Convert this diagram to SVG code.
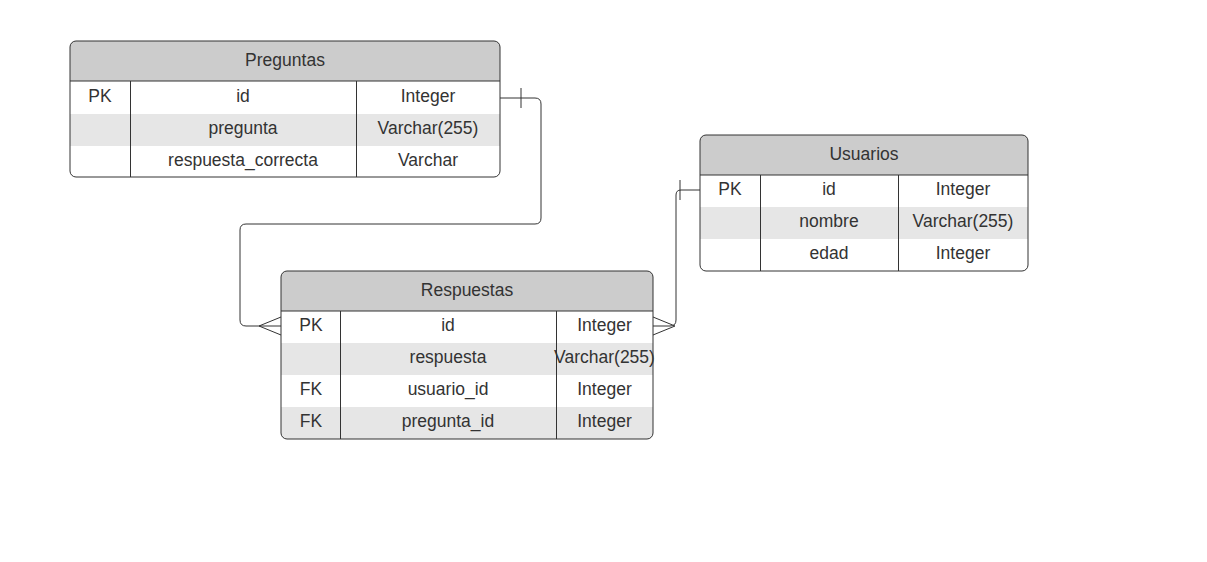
<svg xmlns="http://www.w3.org/2000/svg" width="1207" height="562" viewBox="0 0 1207 562">
<style>
.hdr{fill:#cccccc}
.alt{fill:#e6e6e6}
.body{fill:#ffffff}
.frame{fill:none;stroke:#333333;stroke-width:1}
.sep{stroke:#333333;stroke-width:1}
.t{font-family:"Liberation Sans",Arial,sans-serif;font-size:17.5px;fill:#333333;text-anchor:middle;dominant-baseline:central}
.conn{fill:none;stroke:#333333;stroke-width:1}
</style>
<defs>
<clipPath id="cp1"><rect x="70" y="41" width="430" height="136" rx="6"/></clipPath>
<clipPath id="cp2"><rect x="281" y="271" width="372" height="168" rx="6"/></clipPath>
<clipPath id="cp3"><rect x="700" y="135" width="328" height="136" rx="6"/></clipPath>
</defs>
<rect width="1207" height="562" fill="#ffffff"/>

<g id="connectors">
<path class="conn" d="M500,98 H535 Q541,98 541,104 V218 Q541,224 535,224 H246 Q240,224 240,230 V320 Q240,326 246,326 H281"/>
<path class="conn" d="M521,88 V108"/>
<path class="conn" d="M281,317 L259,326 L281,335"/>
<path class="conn" d="M653,326 H670 Q676,326 676,320 V195 Q676,190 681,190 H700"/>
<path class="conn" d="M680,180 V200"/>
<path class="conn" d="M653,317 L675,326 L653,335"/>
</g>

<g id="preguntas">
<g clip-path="url(#cp1)">
<rect class="body" x="70" y="41" width="430" height="136"/>
<rect class="hdr" x="70" y="41" width="430" height="40"/>
<rect class="alt" x="70" y="114" width="430" height="32"/>
</g>
<line class="sep" x1="70" y1="81" x2="500" y2="81"/>
<line class="sep" x1="130.5" y1="81" x2="130.5" y2="177"/>
<line class="sep" x1="356.5" y1="81" x2="356.5" y2="177"/>
<rect class="frame" x="70" y="41" width="430" height="136" rx="6"/>
<text class="t" x="285" y="60">Preguntas</text>
<text class="t" x="100" y="96">PK</text>
<text class="t" x="243" y="96">id</text>
<text class="t" x="428" y="96">Integer</text>
<text class="t" x="243" y="128">pregunta</text>
<text class="t" x="428" y="128">Varchar(255)</text>
<text class="t" x="243" y="160">respuesta_correcta</text>
<text class="t" x="428" y="160">Varchar</text>
</g>

<g id="respuestas">
<g clip-path="url(#cp2)">
<rect class="body" x="281" y="271" width="372" height="168"/>
<rect class="hdr" x="281" y="271" width="372" height="40"/>
<rect class="alt" x="281" y="343" width="372" height="32"/>
<rect class="alt" x="281" y="407" width="372" height="32"/>
</g>
<line class="sep" x1="281" y1="311" x2="653" y2="311"/>
<line class="sep" x1="340.5" y1="311" x2="340.5" y2="439"/>
<line class="sep" x1="556.5" y1="311" x2="556.5" y2="439"/>
<rect class="frame" x="281" y="271" width="372" height="168" rx="6"/>
<text class="t" x="467" y="290">Respuestas</text>
<text class="t" x="311" y="325">PK</text>
<text class="t" x="448" y="325">id</text>
<text class="t" x="604.5" y="325">Integer</text>
<text class="t" x="448" y="357">respuesta</text>
<text class="t" x="604.5" y="357">Varchar(255)</text>
<text class="t" x="311" y="389">FK</text>
<text class="t" x="448" y="389">usuario_id</text>
<text class="t" x="604.5" y="389">Integer</text>
<text class="t" x="311" y="421">FK</text>
<text class="t" x="448" y="421">pregunta_id</text>
<text class="t" x="604.5" y="421">Integer</text>
</g>

<g id="usuarios">
<g clip-path="url(#cp3)">
<rect class="body" x="700" y="135" width="328" height="136"/>
<rect class="hdr" x="700" y="135" width="328" height="40"/>
<rect class="alt" x="700" y="207" width="328" height="32"/>
</g>
<line class="sep" x1="700" y1="175" x2="1028" y2="175"/>
<line class="sep" x1="760.5" y1="175" x2="760.5" y2="271"/>
<line class="sep" x1="898.5" y1="175" x2="898.5" y2="271"/>
<rect class="frame" x="700" y="135" width="328" height="136" rx="6"/>
<text class="t" x="864" y="154">Usuarios</text>
<text class="t" x="730" y="189">PK</text>
<text class="t" x="829" y="189">id</text>
<text class="t" x="963" y="189">Integer</text>
<text class="t" x="829" y="221">nombre</text>
<text class="t" x="963" y="221">Varchar(255)</text>
<text class="t" x="829" y="253">edad</text>
<text class="t" x="963" y="253">Integer</text>
</g>
</svg>
